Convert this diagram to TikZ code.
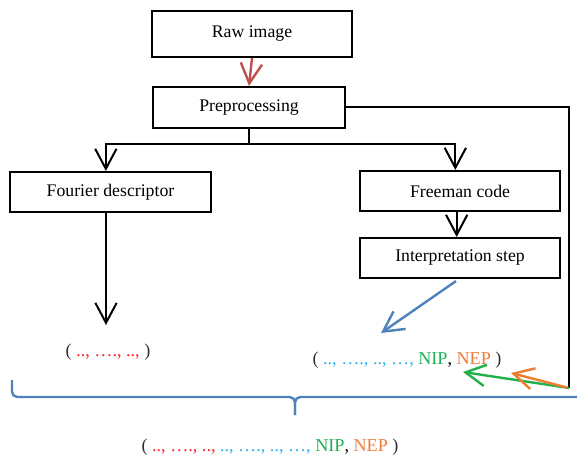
\documentclass[tikz,border=0pt]{standalone}
\usepackage{fontspec}
\setmainfont{Liberation Serif}
\usetikzlibrary{arrows.meta}
\definecolor{arrred}{HTML}{C0504D}
\definecolor{arrblue}{HTML}{4F81BD}
\definecolor{arrgreen}{HTML}{22B04A}
\definecolor{arrorange}{HTML}{ED7D31}
\definecolor{dotred}{HTML}{FF2020}
\definecolor{dotblue}{HTML}{2EB0F0}
\definecolor{nipgreen}{HTML}{1DB050}
\definecolor{neporange}{HTML}{F07C3C}
\definecolor{paren}{HTML}{303030}
\begin{document}
\begin{tikzpicture}[x=0.75pt,y=-0.75pt,
  box/.style={draw, line width=1.6pt, inner sep=0pt, fill=white,
    font=\fontsize{13.3}{16}\selectfont},
  txt/.style={inner sep=1pt, font=\fontsize{13.6}{16}\selectfont},
  tipshape/.style={-{Straight Barb[length=15pt,width=16pt]}},
  line/.style={line width=1.5pt},
  arr/.style={line, tipshape},
  redarr/.style={line width=1.8pt, draw=arrred, tipshape},
  bluearr/.style={line width=1.8pt, draw=arrblue, tipshape},
  greenarr/.style={line width=1.8pt, draw=arrgreen, tipshape},
  orangearr/.style={line width=1.8pt, draw=arrorange, tipshape},
  bracestyle/.style={line width=1.8pt, draw=arrblue, rounded corners=4pt}
]
\useasboundingbox (0,0) rectangle (577,459);

% boxes
\node[box, minimum width=150pt, minimum height=34.5pt] (raw) at (252,34) {Raw image};
\node[box, minimum width=144pt, minimum height=30.75pt] (pre) at (249,107.5) {Preprocessing};
\node[box, minimum width=150.75pt, minimum height=30pt] (fourier) at (110.5,192) {Fourier descriptor};
\node[box, minimum width=150pt, minimum height=30pt] (freeman) at (460,191) {Freeman code};
\node[box, minimum width=150pt, minimum height=30pt] (interp) at (460,258) {Interpretation step};

% texts
\node[txt] (fdots) at (108,352) {\textcolor{paren}{(} \textcolor{dotred}{..,\ …., ..,} \textcolor{paren}{)}};
\node[txt] (idots) at (407,360) {\textcolor{paren}{(} \textcolor{dotblue}{..,\ …., ..,\ …,} \textcolor{nipgreen}{NIP}, \textcolor{neporange}{NEP} \textcolor{paren}{)}};
\node[txt] (all) at (270,447) {\textcolor{paren}{(} \textcolor{dotred}{..,\ …., ..,} \textcolor{dotblue}{..,\ …., ..,\ …,} \textcolor{nipgreen}{NIP}, \textcolor{neporange}{NEP} \textcolor{paren}{)}};

% coordinates
\coordinate (fork) at (249,144);
\coordinate (ftip) at (106,325);
\coordinate (btip) at (381,333);
\coordinate (corner) at (569,388);
\coordinate (gtip) at (463,372);
\coordinate (otip) at (511,373);

% connectors
\draw[redarr] (raw.south) -- (pre.north);
\draw[line] (pre.south) -- (fork);
\draw[arr] (fork) -| ([xshift=-3.5pt]fourier.north);
\draw[arr] (fork) -| ([xshift=-3.5pt]freeman.north);
\draw[arr] ([xshift=-2.5pt]freeman.south) -- ([xshift=-2.5pt]interp.north);
\draw[arr] (fourier.south -| ftip) -- (ftip);
\draw[bluearr] ([xshift=-3pt,yshift=-1.5pt]interp.south) -- (btip);
\draw[line] (pre.east) -| (corner);
\draw[greenarr] (corner) -- (gtip);
\draw[orangearr] ([shift={(-2,-0.5)}]corner) -- (otip);

% brace
\draw[bracestyle] (12,380) -- (12,397) -- (295,397) -- (295,415);
\draw[bracestyle] (580,397) -- (295,397) -- (295,415);
\end{tikzpicture}
\end{document}
